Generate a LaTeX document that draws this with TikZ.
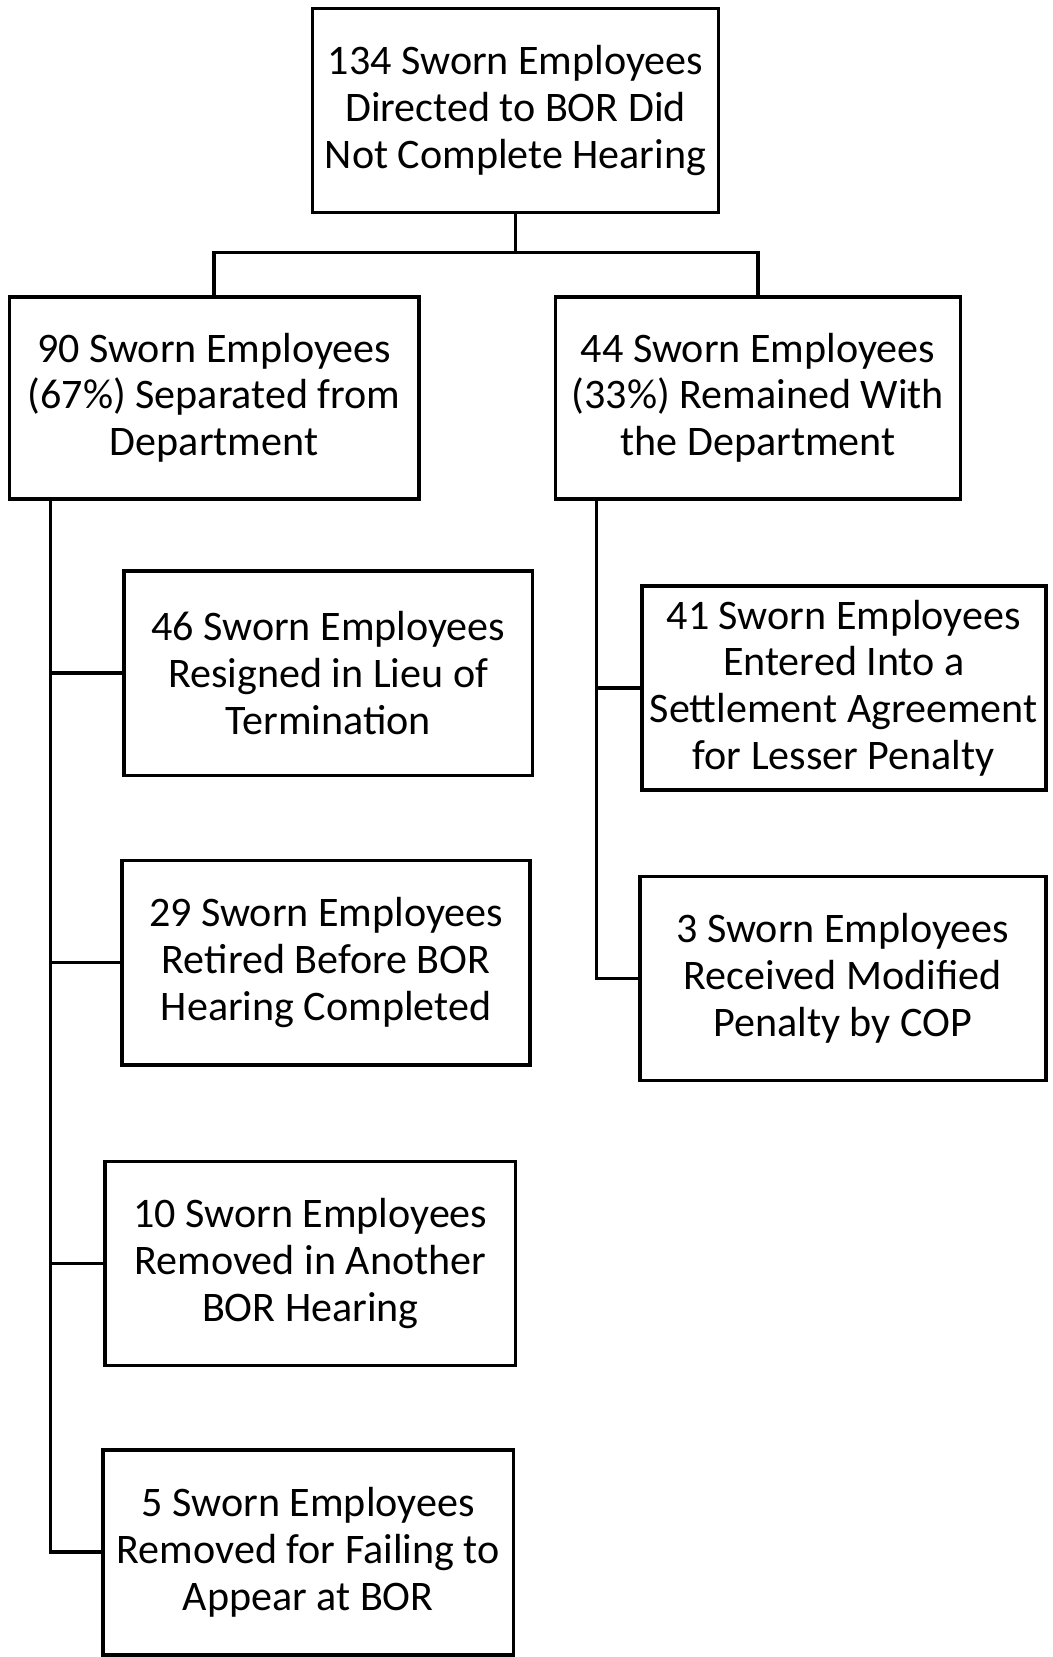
\documentclass[tikz,border=0pt]{standalone}
\usepackage{fontspec}
\setmainfont{Carlito}
\begin{document}
\begin{tikzpicture}[x=1pt,y=-1pt,
  box/.style={draw=black, line width=3.5pt, rectangle, align=center, inner sep=0pt,
    font=\fontsize{40}{44.5}\selectfont},
  conn/.style={draw=black, line width=3.5pt}]
\useasboundingbox (0,0) rectangle (1000,1575);
\node[box, minimum width=386pt, minimum height=194pt] (top) at (490,105) {134 Sworn Employees\\Directed to BOR Did\\Not Complete Hearing};
\node[box, minimum width=389pt, minimum height=192pt] (L) at (203.5,378) {90 Sworn Employees\\(67\%) Separated from\\Department};
\node[box, minimum width=385pt, minimum height=192pt] (R) at (720.5,378) {44 Sworn Employees\\(33\%) Remained With\\the Department};
\node[box, minimum width=388pt, minimum height=194pt] (L1) at (312,640) {46 Sworn Employees\\Resigned in Lieu of\\Termination};
\node[box, minimum width=388pt, minimum height=194pt] (L2) at (310,915) {29 Sworn Employees\\Retired Before BOR\\Hearing Completed};
\node[box, minimum width=390pt, minimum height=194pt] (L3) at (295,1201) {10 Sworn Employees\\Removed in Another\\BOR Hearing};
\node[box, minimum width=390pt, minimum height=195pt] (L4) at (293,1475.5) {5 Sworn Employees\\Removed for Failing to\\Appear at BOR};
\node[box, minimum width=384pt, minimum height=194pt] (R1) at (802,654) {41 Sworn Employees\\Entered Into a\\Settlement Agreement\\for Lesser Penalty};
\node[box, minimum width=386pt, minimum height=194pt] (R2) at (801,930) {3 Sworn Employees\\Received Modified\\Penalty by COP};
\coordinate (split) at (490,240);
\coordinate (ltrunk) at (48,474);
\coordinate (rtrunk) at (567,474);
\draw[conn] (top.south) -- (split);
\draw[conn, line join=miter] (L.north) -- (L.north |- split) -- (R.north |- split) -- (R.north);
\draw[conn] (ltrunk) -- (ltrunk |- L4.west) -- (L4.west);
\draw[conn] (ltrunk |- L1.west) -- (L1.west);
\draw[conn] (ltrunk |- L2.west) -- (L2.west);
\draw[conn] (ltrunk |- L3.west) -- (L3.west);
\draw[conn] (rtrunk) -- (rtrunk |- R2.west) -- (R2.west);
\draw[conn] (rtrunk |- R1.west) -- (R1.west);
\end{tikzpicture}
\end{document}
